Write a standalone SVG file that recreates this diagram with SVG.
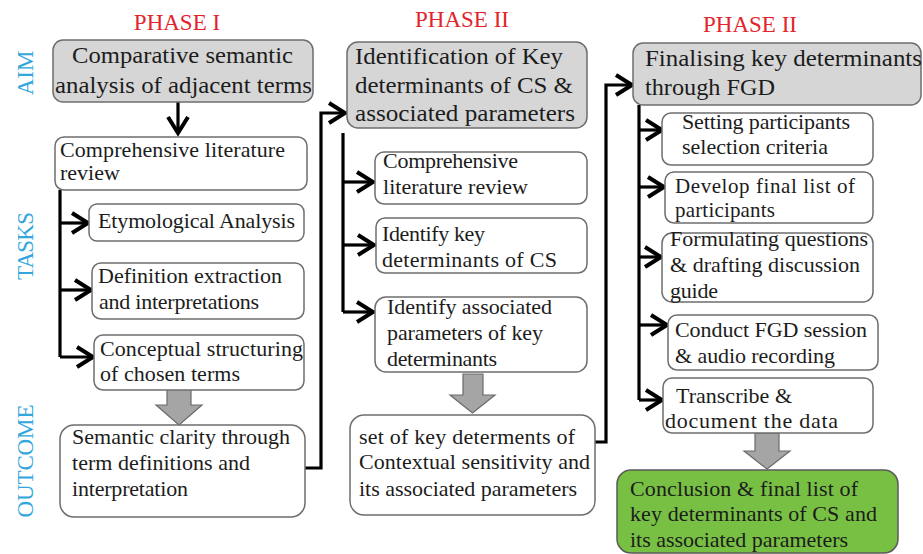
<svg xmlns="http://www.w3.org/2000/svg" width="923" height="554" viewBox="0 0 923 554">
  <defs>
    <style>
      text { font-family: "Liberation Serif", "Times New Roman", serif; fill: #1c1c1c; }
      .phase { font-size: 23px; fill: #e3232b; text-anchor: middle; }
      .side { font-size: 23px; fill: #33a7dc; text-anchor: middle; }
      .aim { fill: #d6d6d6; stroke: #6e6e6e; stroke-width: 1.5; }
      .task { fill: #ffffff; stroke: #6e6e6e; stroke-width: 1.5; }
      .final { fill: #78c043; stroke: #5a5a5a; stroke-width: 1.5; }
      .big { font-size: 24px; }
      .txt { font-size: 22px; }
      .tight { font-size: 21px; }
      .conn { fill: none; stroke: #000; stroke-width: 3.2; }
      .block { fill: #a5a5a5; stroke: #6a6a6a; stroke-width: 1.2; }
    </style>
    <marker id="chev" markerUnits="userSpaceOnUse" markerWidth="26" markerHeight="26" viewBox="-22 -13 26 26" refX="0" refY="0" orient="auto">
      <path d="M-16,-10 L0,0 L-16,10" fill="none" stroke="#000" stroke-width="4" stroke-linejoin="miter"/>
    </marker>
  </defs>

  <!-- column headings -->
  <g id="headings">
    <text class="phase" x="177" y="30">PHASE I</text>
    <text class="phase" x="462" y="27">PHASE II</text>
    <text class="phase" x="750" y="32">PHASE II</text>
  </g>

  <!-- row headings -->
  <g id="rows">
    <text class="side" transform="translate(33,73) rotate(-90)">AIM</text>
    <text class="side" transform="translate(33,246) rotate(-90)" textLength="68">TASKS</text>
    <text class="side" transform="translate(33,461) rotate(-90)" textLength="113">OUTCOME</text>
  </g>

  <!-- connectors -->
  <g id="connectors">
    <path class="conn" d="M178,102 V133" marker-end="url(#chev)"/>
    <path class="conn" d="M60,190 V357"/>
    <path class="conn" d="M60,223 H88" marker-end="url(#chev)"/>
    <path class="conn" d="M60,290 H91" marker-end="url(#chev)"/>
    <path class="conn" d="M60,357 H93" marker-end="url(#chev)"/>
    <path class="conn" d="M305,468 H321 V113 H345" marker-end="url(#chev)"/>

    <path class="conn" d="M343,133 V312"/>
    <path class="conn" d="M343,182 H373" marker-end="url(#chev)"/>
    <path class="conn" d="M343,245 H374" marker-end="url(#chev)"/>
    <path class="conn" d="M343,312 H373" marker-end="url(#chev)"/>
    <path class="conn" d="M595,442 H606 V85 H632" marker-end="url(#chev)"/>

    <path class="conn" d="M639,105 V400"/>
    <path class="conn" d="M639,130 H662" marker-end="url(#chev)"/>
    <path class="conn" d="M639,187 H664" marker-end="url(#chev)"/>
    <path class="conn" d="M639,257 H661" marker-end="url(#chev)"/>
    <path class="conn" d="M639,325 H667" marker-end="url(#chev)"/>
    <path class="conn" d="M639,400 H662" marker-end="url(#chev)"/>

    <polygon class="block" points="167,389 191,389 191,405 202,405 179,425 156,405 167,405"/>
    <polygon class="block" points="463,374 483,374 483,395 495,395 472.5,413 450,395 463,395"/>
    <polygon class="block" points="755,433 779,433 779,451 790,451 767,469 744,451 755,451"/>
  </g>

  <!-- Phase I -->
  <g id="p1-aim">
    <rect class="aim" x="53" y="40" width="260" height="62" rx="10"/>
    <text class="big" x="72" y="63" textLength="221" lengthAdjust="spacingAndGlyphs">Comparative semantic</text>
    <text class="big" x="55" y="93" textLength="257" lengthAdjust="spacingAndGlyphs">analysis of adjacent terms</text>
  </g>
  <g id="p1-review">
    <rect class="task" x="55" y="137" width="252" height="53" rx="9"/>
    <text class="txt" x="60" y="157" textLength="225">Comprehensive literature</text>
    <text class="txt" x="60" y="180">review</text>
  </g>
  <g id="p1-etym">
    <rect class="task" x="89" y="204" width="215" height="37" rx="8"/>
    <text class="txt" x="98" y="228" textLength="197">Etymological Analysis</text>
  </g>
  <g id="p1-def">
    <rect class="task" x="92" y="263" width="212" height="56" rx="9"/>
    <text class="txt" x="98" y="283" textLength="184">Definition extraction</text>
    <text class="txt" x="99" y="309" textLength="160">and interpretations</text>
  </g>
  <g id="p1-concept">
    <rect class="task" x="94" y="335" width="210" height="55" rx="9"/>
    <text class="txt" x="100" y="356" textLength="203">Conceptual structuring</text>
    <text class="txt" x="100" y="381" textLength="140">of chosen terms</text>
  </g>
  <g id="p1-outcome">
    <rect class="task" x="60" y="425" width="245" height="92" rx="14"/>
    <text class="txt" x="72" y="444" textLength="218">Semantic clarity through</text>
    <text class="txt" x="72" y="470" textLength="178">term definitions and</text>
    <text class="txt" x="72" y="496" textLength="116">interpretation</text>
  </g>

  <!-- Phase II -->
  <g id="p2-aim">
    <rect class="aim" x="347" y="42" width="240" height="86" rx="11"/>
    <text class="big" x="355" y="64" textLength="208" lengthAdjust="spacingAndGlyphs">Identification of Key</text>
    <text class="big" x="355" y="93" textLength="218" lengthAdjust="spacingAndGlyphs">determinants of CS &amp;</text>
    <text class="big" x="355" y="121" textLength="220" lengthAdjust="spacingAndGlyphs">associated parameters</text>
  </g>
  <g id="p2-review">
    <rect class="task" x="375" y="152" width="212" height="52" rx="9"/>
    <text class="txt" x="383" y="168" textLength="135">Comprehensive</text>
    <text class="txt" x="383" y="194" textLength="145">literature review</text>
  </g>
  <g id="p2-identify">
    <rect class="task" x="376" y="218" width="211" height="55" rx="9"/>
    <text class="txt" x="382" y="241" textLength="103">Identify key</text>
    <text class="txt" x="382" y="267" textLength="175">determinants of CS</text>
  </g>
  <g id="p2-params">
    <rect class="task" x="375" y="297" width="212" height="75" rx="11"/>
    <text class="txt" x="387" y="314" textLength="165">Identify associated</text>
    <text class="txt" x="387" y="340" textLength="156">parameters of key</text>
    <text class="txt" x="387" y="366" textLength="110">determinants</text>
  </g>
  <g id="p2-outcome">
    <rect class="task" x="350" y="415" width="245" height="100" rx="14"/>
    <text class="txt" x="359" y="444" textLength="216">set of key determents of</text>
    <text class="txt" x="359" y="469" textLength="231">Contextual sensitivity and</text>
    <text class="txt" x="359" y="496" textLength="218">its associated parameters</text>
  </g>

  <!-- Phase III -->
  <g id="p3-aim">
    <rect class="aim" x="633" y="43" width="288" height="62" rx="10"/>
    <text class="big" x="645" y="66" textLength="277" lengthAdjust="spacingAndGlyphs">Finalising key determinants</text>
    <text class="big" x="645" y="95" textLength="130" lengthAdjust="spacingAndGlyphs">through FGD</text>
  </g>
  <g id="p3-criteria">
    <rect class="task" x="662" y="113" width="211" height="52" rx="9"/>
    <text class="txt" x="682" y="129" textLength="168">Setting participants</text>
    <text class="txt" x="682" y="154" textLength="146">selection criteria</text>
  </g>
  <g id="p3-list">
    <rect class="task" x="665" y="172" width="208" height="51" rx="9"/>
    <text class="tight" x="675" y="193" textLength="180">Develop final list of</text>
    <text class="tight" x="675" y="217" textLength="100">participants</text>
  </g>
  <g id="p3-questions">
    <rect class="task" x="662" y="233" width="211" height="69" rx="10"/>
    <text class="txt" x="670" y="246" textLength="198">Formulating questions</text>
    <text class="txt" x="670" y="272" textLength="190">&amp; drafting discussion</text>
    <text class="txt" x="670" y="298" textLength="48">guide</text>
  </g>
  <g id="p3-session">
    <rect class="task" x="668" y="315" width="210" height="55" rx="9"/>
    <text class="txt" x="675" y="337" textLength="192">Conduct FGD session</text>
    <text class="txt" x="675" y="363" textLength="160">&amp; audio recording</text>
  </g>
  <g id="p3-transcribe">
    <rect class="task" x="663" y="378" width="210" height="55" rx="9"/>
    <text class="txt" x="676" y="403" textLength="116">Transcribe &amp;</text>
    <text class="txt" x="665" y="428" textLength="173">document the data</text>
  </g>
  <g id="p3-conclusion">
    <rect class="final" x="617" y="470" width="281" height="83" rx="14"/>
    <text class="txt" x="630" y="496" textLength="228">Conclusion &amp; final list of</text>
    <text class="txt" x="630" y="521" textLength="247">key determinants of CS and</text>
    <text class="txt" x="630" y="547" textLength="218">its associated parameters</text>
  </g>
</svg>
